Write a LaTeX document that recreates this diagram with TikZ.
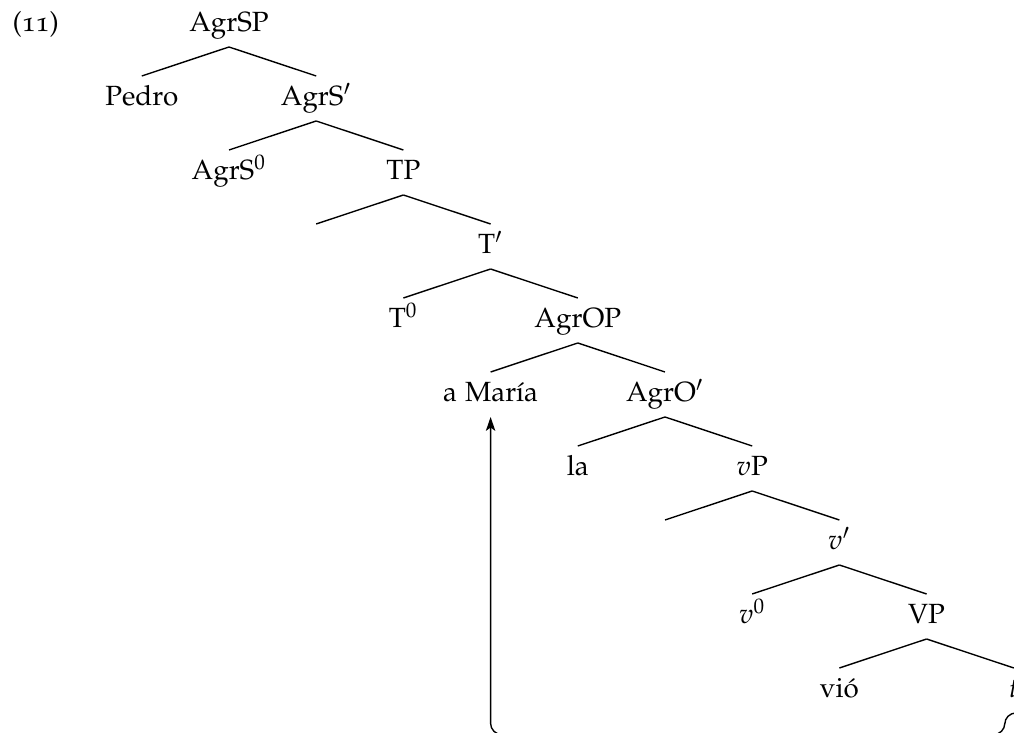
\documentclass[tikz,border=0pt]{standalone}
\usepackage[T1]{fontenc}
\usepackage[osf]{mathpazo}
\usetikzlibrary{arrows.meta}
\begin{document}
\begin{tikzpicture}[x=0.36pt,y=-0.36pt,
  cat/.style={anchor=base,inner sep=0pt,outer sep=0pt,
              text height=10.8pt,text depth=5.4pt,font=\fontsize{10}{12}\selectfont},
  branch/.style={line width=0.5pt},
  movement/.style={line width=0.5pt,rounded corners=4,
                   -{Stealth[length=5pt,width=3.4pt,inset=1.2pt]}}]
\useasboundingbox (0,0) rectangle (1014,733);
\clip (0,0) rectangle (1014,733);

% example number
\node[anchor=base west,inner sep=0pt] (exnum) at (12,32) {(11)};

% nodes: column x = 229 + 87.2 m, baseline y = 32 + 74 k
\node[cat] (agrsp)  at (229.0,32)  {AgrSP};
\node[cat] (pedro)  at (141.8,106) {Pedro};
\node[cat] (agrsb)  at (316.2,106) {AgrS$'$};
\node[cat] (agrs0)  at (229.0,180) {AgrS$^0$};
\node[cat] (tp)     at (403.4,180) {TP};
\node[cat] (spect)  at (316.2,254) {};
\node[cat] (tbar)   at (490.6,254) {T$'$};
\node[cat] (t0)     at (403.4,328) {T$^0$};
\node[cat] (agrop)  at (577.8,328) {AgrOP};
\node[cat] (maria)  at (490.6,402) {a Mar\'{\i}a};
\node[cat] (agrob)  at (665.0,402) {AgrO$'$};
\node[cat] (la)     at (577.8,476) {la};
\node[cat] (vp)     at (752.2,476) {$v$P};
\node[cat] (specv)  at (665.0,550) {};
\node[cat] (vbar)   at (839.4,550) {$v'$};
\node[cat] (v0)     at (752.2,624) {$v^0$};
\node[cat] (VP)     at (926.6,624) {VP};
\node[cat] (vio)    at (839.4,698) {vi\'o};
\node[cat] (trace)  at (1013.8,698) {$t$};

% branches
\foreach \p/\c in {agrsp/pedro, agrsp/agrsb, agrsb/agrs0, agrsb/tp,
                   tp/spect, tp/tbar, tbar/t0, tbar/agrop,
                   agrop/maria, agrop/agrob, agrob/la, agrob/vp,
                   vp/specv, vp/vbar, vbar/v0, vbar/VP, VP/vio, VP/trace}
  \draw[branch] (\p.south) -- (\c.north);

% movement arrow from the trace up to the moved object
\draw[movement] (trace.south) -- ++(-9,0) -- ++(0,21.5) -| (maria.south);
\end{tikzpicture}
\end{document}
